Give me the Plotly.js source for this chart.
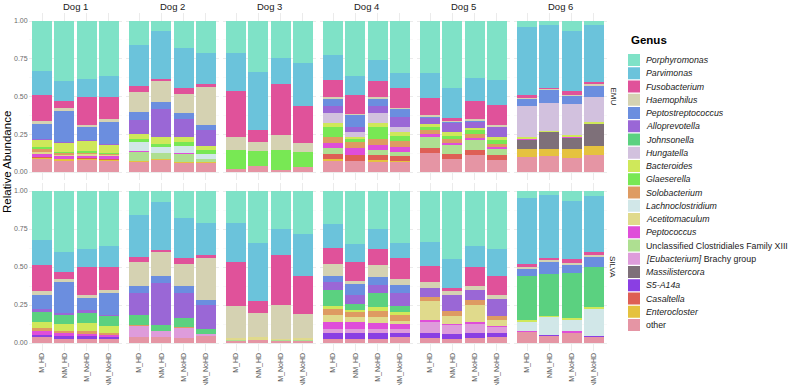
<!DOCTYPE html>
<html><head><meta charset="utf-8">
<script src="https://cdn.plot.ly/plotly-3.0.1.min.js"></script>
<style>html,body{margin:0;padding:0;background:#fff}#chart{width:788px;height:385px}</style>
</head><body><div id="chart"></div>
<script>
const dogs = ['Dog 1','Dog 2','Dog 3','Dog 4','Dog 5','Dog 6'];
const samples = ['M_HD','NM_HD','M_NoHD','NM_NoHD'];
const databases = ['EMU','SILVA'];
const yTickVals = [0,0.25,0.5,0.75,1];
const yTickLabels = ['0.00','0.25','0.50','0.75','1.00'];
const genera = ['Porphyromonas','Parvimonas','Fusobacterium','Haemophilus','Peptostreptococcus','Alloprevotella','Johnsonella','Hungatella','Bacteroides','Glaeserella','Solobacterium','Lachnoclostridium','Acetitomaculum','Peptococcus','Unclassified Clostridiales Family XIII','[Eubacterium] Brachy group','Massilistercora','S5-A14a','Casaltella','Enterocloster','other'];
const legendLabels = ['<i>Porphyromonas</i>','<i>Parvimonas</i>','<i>Fusobacterium</i>','<i>Haemophilus</i>','<i>Peptostreptococcus</i>','<i>Alloprevotella</i>','<i>Johnsonella</i>','<i>Hungatella</i>','<i>Bacteroides</i>','<i>Glaeserella</i>','<i>Solobacterium</i>','<i>Lachnoclostridium</i>','<i>Acetitomaculum</i>','<i>Peptococcus</i>','Unclassified Clostridiales Family XIII','<i>[Eubacterium]</i> Brachy group','<i>Massilistercora</i>','<i>S5-A14a</i>','<i>Casaltella</i>','<i>Enterocloster</i>','other'];
const colors = ['#7FE2C7','#6BC3DB','#E0529A','#D5D2B2','#6B8EDF','#9A67D6','#5BD180','#D2C1DE','#CFE85A','#78E854','#DE9B62','#D1E7E8','#E0DA8C','#DF4ED9','#AEDF91','#DE9CDB','#7E7079','#8A3FE3','#DE5F55','#E5C23F','#E595A4'];

// values: Dog1 (M_HD, NM_HD, M_NoHD, NM_NoHD), Dog2, ..., Dog6
const emu_Porphyromonas = [0.330,0.400,0.387,0.365, 0.156,0.068,0.178,0.211, 0.210,0.336,0.244,0.281, 0.226,0.365,0.259,0.343, 0.347,0.446,0.380,0.391, 0.040,0.024,0.068,0.029];
const emu_Parvimonas = [0.160,0.130,0.118,0.135, 0.275,0.319,0.268,0.207, 0.254,0.385,0.176,0.282, 0.165,0.125,0.137,0.099, 0.165,0.194,0.147,0.167, 0.450,0.418,0.394,0.373];
const emu_Fusobacterium = [0.175,0.045,0.185,0.148, 0.039,0.013,0.040,0.022, 0.301,0.079,0.334,0.246, 0.110,0.128,0.109,0.132, 0.110,0.019,0.121,0.130, 0.018,0.011,0.030,0.018];
const emu_Haemophilus = [0.015,0.020,0.015,0.018, 0.130,0.138,0.125,0.248, 0.092,0.064,0.099,0.061, 0.013,0.007,0.011,0.009, 0.015,0.008,0.016,0.011, 0.011,0.005,0.005,0.009];
const emu_Peptostreptococcus = [0.100,0.205,0.082,0.147, 0.055,0.044,0.039,0.033, 0,0,0,0, 0.049,0.074,0.047,0.054, 0.006,0.006,0.006,0.006, 0.044,0.087,0.055,0.072];
const emu_Alloprevotella = [0.007,0.005,0.010,0.009, 0.092,0.183,0.119,0.105, 0,0,0,0, 0.044,0.039,0.044,0.066, 0.041,0.063,0.038,0.064, 0,0,0,0];
const emu_Johnsonella = [0,0,0,0, 0,0,0,0, 0,0,0,0, 0,0,0,0, 0,0,0,0, 0,0,0,0];
const emu_Hungatella = [0,0,0,0, 0,0,0,0, 0,0,0,0, 0.070,0.027,0.070,0.031, 0,0,0,0, 0.206,0.182,0.202,0.165];
const emu_Bacteroides = [0.048,0.060,0.067,0.053, 0.035,0.048,0.033,0.027, 0,0,0,0, 0.028,0.017,0.028,0.026, 0.015,0.024,0.017,0.022, 0.013,0.011,0.015,0.015];
const emu_Glaeserella = [0.010,0.007,0.007,0.007, 0.022,0.024,0.024,0.026, 0.123,0.099,0.132,0.099, 0.064,0.022,0.077,0.033, 0.022,0.022,0.022,0.024, 0,0,0,0];
const emu_Solobacterium = [0.025,0.013,0.013,0.007, 0,0,0,0, 0,0,0,0, 0.040,0.038,0.040,0.044, 0.029,0.027,0.027,0.022, 0,0,0,0];
const emu_Lachnoclostridium = [0,0,0,0, 0.060,0.038,0.049,0.033, 0,0,0,0, 0,0,0,0, 0,0,0,0, 0,0,0,0];
const emu_Acetitomaculum = [0.010,0.008,0.007,0.006, 0,0,0,0, 0,0,0,0, 0,0,0,0, 0,0,0,0, 0,0,0,0];
const emu_Peptococcus = [0.020,0.018,0.017,0.018, 0.004,0,0.004,0, 0,0,0,0, 0.035,0.046,0.035,0.033, 0.015,0.015,0.013,0.011, 0.008,0,0.004,0];
const emu_UnclassifiedClostridiales = [0,0,0,0, 0.058,0.039,0.058,0.022, 0,0,0,0, 0.038,0,0.029,0.027, 0.077,0.055,0.066,0.042, 0,0,0,0];
const emu_Eubacterium = [0,0,0,0, 0,0,0,0, 0,0,0,0, 0,0,0,0, 0,0,0,0, 0,0,0,0];
const emu_Massilistercora = [0,0,0,0, 0,0,0,0, 0,0,0,0, 0,0,0,0, 0,0,0,0, 0.056,0.108,0.073,0.150];
const emu_S5A14a = [0,0,0,0, 0,0,0,0, 0,0,0,0, 0,0,0,0, 0,0,0,0, 0,0,0,0];
const emu_Casaltella = [0.007,0.006,0.006,0.006, 0,0,0,0, 0,0,0,0, 0.033,0.037,0.033,0.028, 0.033,0.035,0.037,0.029, 0,0,0,0];
const emu_Enterocloster = [0.008,0.008,0.006,0.006, 0.008,0.006,0.005,0.006, 0,0,0,0, 0.015,0,0.017,0.009, 0,0,0,0, 0.057,0.051,0.062,0.055];
const emu_other = [0.085,0.075,0.080,0.075, 0.066,0.080,0.058,0.060, 0.020,0.037,0.015,0.031, 0.070,0.075,0.064,0.066, 0.125,0.086,0.110,0.081, 0.097,0.103,0.092,0.114];

const silva_Porphyromonas = [0.322,0.398,0.381,0.365, 0.158,0.074,0.179,0.212, 0.212,0.339,0.249,0.282, 0.219,0.348,0.252,0.344, 0.333,0.446,0.365,0.383, 0.044,0.026,0.066,0.031];
const silva_Parvimonas = [0.164,0.136,0.120,0.136, 0.273,0.313,0.259,0.208, 0.252,0.387,0.171,0.280, 0.157,0.122,0.131,0.098, 0.159,0.189,0.138,0.173, 0.435,0.416,0.383,0.372];
const silva_Fusobacterium = [0.170,0.044,0.182,0.149, 0.037,0.016,0.041,0.022, 0.291,0.077,0.328,0.245, 0.103,0.125,0.103,0.136, 0.110,0.021,0.121,0.127, 0.022,0.015,0.026,0.017];
const silva_Haemophilus = [0.027,0.022,0.022,0.022, 0.156,0.159,0.149,0.274, 0.212,0.158,0.226,0.160, 0.077,0.015,0.083,0.043, 0.033,0.027,0.030,0.028, 0.011,0.007,0.011,0.011];
const silva_Peptostreptococcus = [0.094,0.203,0.081,0.142, 0.048,0.044,0.044,0.037, 0,0,0,0, 0.046,0.077,0.048,0.051, 0,0,0,0, 0.046,0.083,0.054,0.072];
const silva_Alloprevotella = [0.019,0.011,0.017,0.011, 0.146,0.274,0.164,0.153, 0,0,0,0, 0.052,0.055,0.055,0.087, 0.063,0.105,0.066,0.110, 0,0,0,0];
const silva_Johnsonella = [0.066,0.059,0.066,0.061, 0.066,0.043,0.061,0.033, 0,0,0,0, 0.101,0.039,0.094,0.040, 0,0,0,0, 0.293,0.278,0.296,0.263];
const silva_Hungatella = [0,0,0,0, 0,0,0,0, 0,0,0,0, 0,0,0,0, 0,0,0,0, 0,0,0,0];
const silva_Bacteroides = [0.040,0.050,0.054,0.048, 0,0,0,0, 0,0,0,0, 0.022,0.013,0.022,0.015, 0,0,0,0, 0.013,0.007,0.011,0.011];
const silva_Glaeserella = [0,0,0,0, 0,0,0,0, 0,0,0,0, 0,0,0,0, 0,0,0,0, 0,0,0,0];
const silva_Solobacterium = [0.021,0.011,0.015,0.011, 0.007,0,0.007,0, 0,0,0,0, 0.037,0.038,0.041,0.044, 0.028,0.033,0.033,0.026, 0,0,0,0];
const silva_Lachnoclostridium = [0,0,0,0, 0,0,0,0, 0,0,0,0, 0,0,0,0, 0,0,0,0, 0.059,0.118,0.076,0.175];
const silva_Acetitomaculum = [0,0,0,0, 0,0,0,0, 0.015,0.021,0.005,0.013, 0.050,0.028,0.040,0.015, 0.125,0.054,0.111,0.044, 0,0,0,0];
const silva_Peptococcus = [0.022,0.022,0.018,0.018, 0,0,0,0, 0,0,0,0, 0.042,0.046,0.037,0.033, 0.013,0.009,0.011,0.006, 0.007,0,0.011,0];
const silva_UnclassifiedClostridiales = [0,0,0,0, 0,0,0,0, 0.007,0,0.006,0.007, 0,0,0,0, 0,0,0,0, 0,0,0,0];
const silva_Eubacterium = [0,0,0,0, 0.072,0.038,0.063,0.013, 0,0,0,0, 0.028,0.031,0.028,0.028, 0.070,0.055,0.059,0.037, 0,0,0,0];
const silva_Massilistercora = [0,0,0,0, 0,0,0,0, 0,0,0,0, 0,0,0,0, 0,0,0,0, 0,0,0,0];
const silva_S5A14a = [0.018,0.016,0.016,0.011, 0,0,0,0, 0,0,0,0, 0.038,0.035,0.038,0.029, 0.035,0.035,0.035,0.029, 0,0.006,0,0.006];
const silva_Casaltella = [0,0,0,0, 0,0,0,0, 0,0,0,0, 0,0,0,0, 0,0,0,0, 0,0,0,0];
const silva_Enterocloster = [0,0,0,0, 0,0,0,0, 0,0,0,0, 0,0,0,0, 0,0,0,0, 0,0,0,0];
const silva_other = [0.037,0.028,0.028,0.026, 0.037,0.039,0.033,0.048, 0.011,0.018,0.015,0.013, 0.028,0.028,0.028,0.037, 0.031,0.026,0.031,0.037, 0.070,0.044,0.066,0.042];

const emuSeries = [emu_Porphyromonas,emu_Parvimonas,emu_Fusobacterium,emu_Haemophilus,emu_Peptostreptococcus,emu_Alloprevotella,emu_Johnsonella,emu_Hungatella,emu_Bacteroides,emu_Glaeserella,emu_Solobacterium,emu_Lachnoclostridium,emu_Acetitomaculum,emu_Peptococcus,emu_UnclassifiedClostridiales,emu_Eubacterium,emu_Massilistercora,emu_S5A14a,emu_Casaltella,emu_Enterocloster,emu_other];
const silvaSeries = [silva_Porphyromonas,silva_Parvimonas,silva_Fusobacterium,silva_Haemophilus,silva_Peptostreptococcus,silva_Alloprevotella,silva_Johnsonella,silva_Hungatella,silva_Bacteroides,silva_Glaeserella,silva_Solobacterium,silva_Lachnoclostridium,silva_Acetitomaculum,silva_Peptococcus,silva_UnclassifiedClostridiales,silva_Eubacterium,silva_Massilistercora,silva_S5A14a,silva_Casaltella,silva_Enterocloster,silva_other];
const seriesByDb = [emuSeries, silvaSeries];

// ---- layout geometry (pixels) ----
const W = 788, H = 385;
const FONT = 'Liberation Sans, Arial, sans-serif';
const catPitch = 22.3, firstCenter = 42, panelPitch = 97, xPad = 0.6;
const rowPx = [[21,172],[191,343]]; // y=1 and y=0 positions
const yExp = 0.05;

const traces = [];
const layout = {
  width: W, height: H, margin:{l:0,r:0,t:0,b:0},
  paper_bgcolor:'#fff', plot_bgcolor:'#fff',
  barmode:'stack', showlegend:false, bargap:0.1,
  font:{family:FONT, color:'#1A1A1A'},
  annotations:[], shapes:[]
};

for (let r=0;r<2;r++){
  const [p1,p0] = rowPx[r];
  const span = p0-p1;
  const top = p1 - yExp*span, bot = p0 + yExp*span;
  for (let c=0;c<6;c++){
    const idx = r*6+c+1;
    const sfx = idx===1 ? '' : String(idx);
    const x0 = firstCenter + c*panelPitch - xPad*catPitch;
    const x1 = x0 + (samples.length-1+2*xPad)*catPitch;
    layout['xaxis'+sfx] = {
      domain:[x0/W, x1/W], anchor:'y'+sfx, type:'category',
      categoryorder:'array', categoryarray:samples, range:[-xPad, samples.length-1+xPad],
      showgrid:true, gridcolor:'#EBEBEB', gridwidth:1, showline:false, zeroline:false,
      ticks:'', showticklabels: r===1, tickangle:-90,
      tickfont:{family:FONT, size:7, color:'#555555'}, fixedrange:true
    };
    layout['yaxis'+sfx] = {
      domain:[1-bot/H, 1-top/H], anchor:'x'+sfx, range:[-yExp, 1+yExp],
      tickmode:'array', tickvals:yTickVals, ticktext:yTickLabels,
      showticklabels: c===0, showgrid:true, gridcolor:'#EBEBEB', gridwidth:1,
      minor:{tickmode:'array', tickvals:[0.125,0.375,0.625,0.875], showgrid:true, gridcolor:'#F3F3F3', gridwidth:0.5},
      zeroline:false, showline:false, ticks:'',
      tickfont:{family:FONT, size:7, color:'#6A6A6A'}, fixedrange:true
    };
    const series = seriesByDb[r];
    for (let g=genera.length-1; g>=0; g--){
      traces.push({
        type:'bar', x:samples, y:series[g].slice(c*4, c*4+4),
        xaxis:'x'+sfx, yaxis:'y'+sfx, name:genera[g], width:0.9,
        marker:{color:colors[g], line:{width:0}}, hoverinfo:'name+y'
      });
    }
    if (r===0){
      layout.annotations.push({text:dogs[c], xref:'paper', yref:'paper', x:((x0+x1)/2)/W, y:1-6/H,
        xanchor:'center', yanchor:'middle', showarrow:false, font:{family:FONT,size:9.5,color:'#1A1A1A'}});
    }
  }
  layout.annotations.push({text:databases[r], xref:'paper', yref:'paper', x:613/W, y:1-((top+bot)/2)/H,
    xanchor:'center', yanchor:'middle', textangle:90, showarrow:false, font:{family:FONT,size:8,color:'#1A1A1A'}});
}

layout.annotations.push({text:'Relative Abundance', xref:'paper', yref:'paper', x:7/W, y:1-162/H,
  xanchor:'center', yanchor:'middle', textangle:-90, showarrow:false, font:{family:FONT,size:11.5,color:'#000'}});

// legend (custom, compact)
layout.annotations.push({text:'<b>Genus</b>', xref:'paper', yref:'paper', x:629/W, y:1-40/H,
  xanchor:'left', yanchor:'middle', showarrow:false, font:{family:FONT,size:11.5,color:'#000'}});
const legTop = 60, legStep = 13.25;
genera.forEach((g,i)=>{
  const yc = legTop + i*legStep;
  layout.shapes.push({type:'rect', xref:'paper', yref:'paper', x0:628/W, x1:640/W, y0:1-(yc+6)/H, y1:1-(yc-6)/H,
    fillcolor:colors[i], line:{width:0}});
  layout.annotations.push({text:legendLabels[i], xref:'paper', yref:'paper', x:644/W, y:1-yc/H,
    xanchor:'left', yanchor:'middle', showarrow:false, font:{family:FONT,size:8.8,color:'#1A1A1A'}});
});

Plotly.newPlot('chart', traces, layout, {displayModeBar:false, staticPlot:true});
</script>
</body></html>
